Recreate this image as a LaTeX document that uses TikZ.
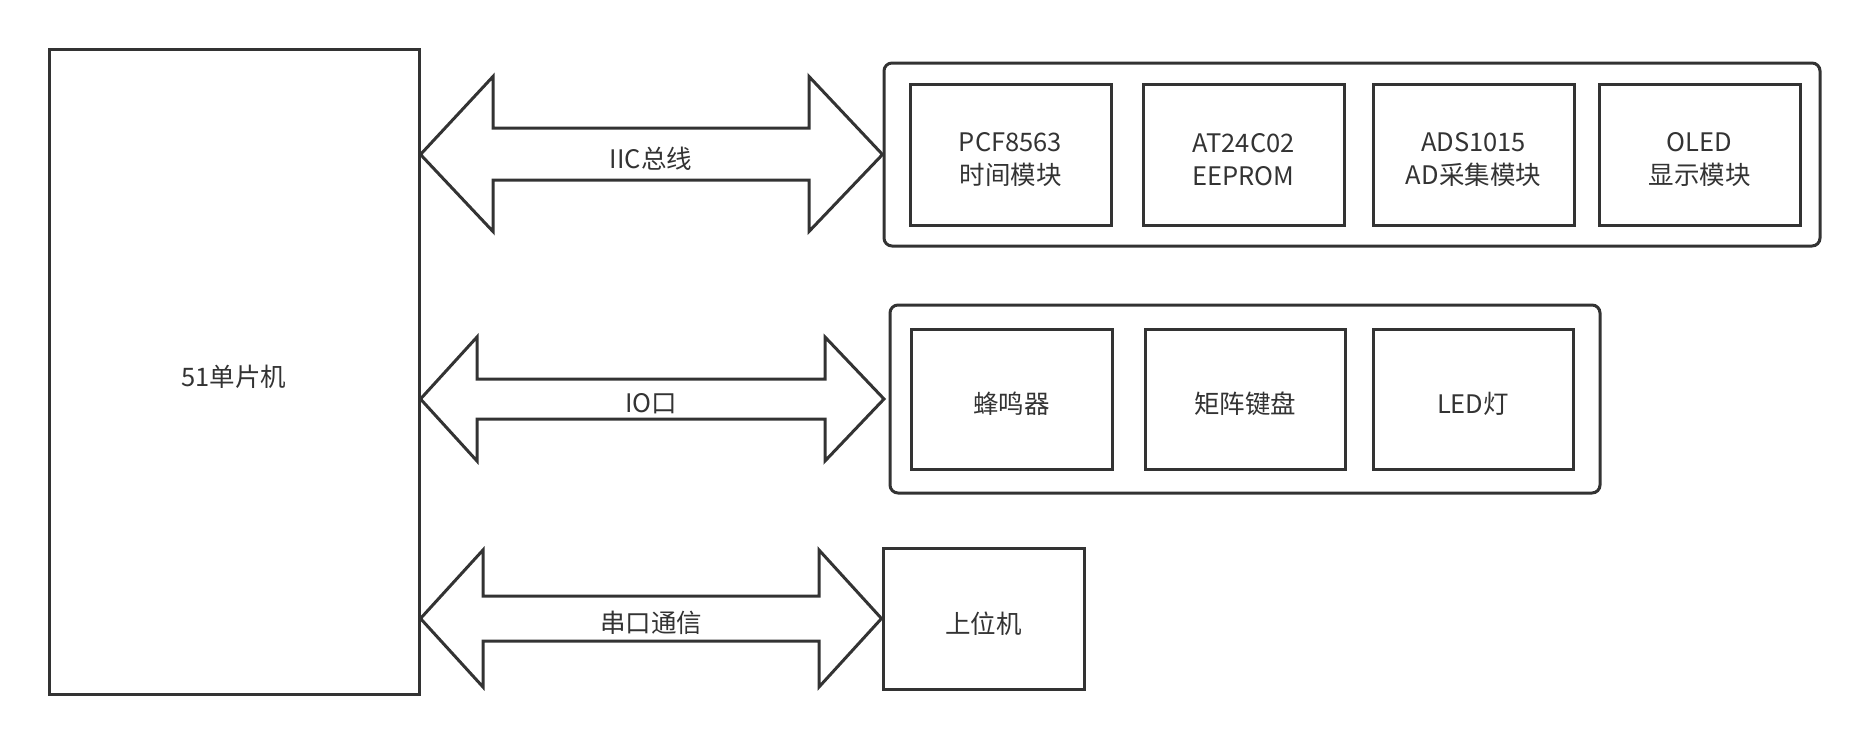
\documentclass[tikz,border=0pt]{standalone}
\usepackage{fontspec}
\setmainfont{Noto Sans CJK SC}
\definecolor{ink}{HTML}{333333}
\begin{document}
\begin{tikzpicture}[x=1pt,y=-1pt,
  txt/.style={text=ink, font=\fontsize{25.5}{33}\selectfont, align=center, inner sep=0pt},
  box/.style={draw=ink, line width=3pt, inner sep=0pt},
  grp/.style={draw=ink, line width=3pt, rounded corners=8pt, inner sep=0pt},
  arr/.style={draw=ink, line width=3pt, fill=white, line join=miter}]
\useasboundingbox (0,0) rectangle (1870,744);
% main controller
\node[box, minimum width=370, minimum height=645] (mcu) at (234,371.5) {};
\node[txt] (mcut) at ([yshift=-5pt]mcu.center) {51单片机};
% group 1
\node[grp, minimum width=936, minimum height=183] (g1) at (1352,154.5) {};
\node[box, minimum width=201, minimum height=141] (pcf) at (1010.5,154.5) {};
\node[box, minimum width=201, minimum height=141] (at24) at (1243.5,154.5) {};
\node[box, minimum width=201, minimum height=141] (ads) at (1473.5,154.5) {};
\node[box, minimum width=201, minimum height=141] (oled) at (1699.5,154.5) {};
\node[txt] (pcft) at ([yshift=-5pt]pcf.center) {PCF8563\\时间模块};
\node[txt] (at24t) at ([yshift=-5pt]at24.center) {AT24C02\\EEPROM};
\node[txt] (adst) at ([yshift=-5pt]ads.center) {ADS1015\\AD采集模块};
\node[txt] (oledt) at ([yshift=-5pt]oled.center) {OLED\\显示模块};
% group 2
\node[grp, minimum width=710, minimum height=188] (g2) at (1245,399) {};
\node[box, minimum width=201, minimum height=140] (buz) at (1011.5,399) {};
\node[box, minimum width=200, minimum height=140] (key) at (1245,399) {};
\node[box, minimum width=200, minimum height=140] (led) at (1473,399) {};
\node[txt] (buzt) at ([yshift=-5pt]buz.center) {蜂鸣器};
\node[txt] (keyt) at ([yshift=-5pt]key.center) {矩阵键盘};
\node[txt] (ledt) at ([yshift=-5pt]led.center) {LED灯};
% host
\node[box, minimum width=201, minimum height=141] (pc) at (983.5,618.5) {};
\node[txt] (pct) at ([yshift=-5pt]pc.center) {上位机};
% arrows
\coordinate (a1l) at (mcu.east |- g1.west);
\coordinate (a1r) at (g1.west);
\draw[arr] (a1l) -- (493,76.5) -- (493,128) -- (809,128) -- (809,76.5) -- (a1r)
  -- (809,231.5) -- (809,180) -- (493,180) -- (493,231.5) -- cycle;
\node[txt] (l1) at (651,159) {IIC总线};
\coordinate (a2l) at (mcu.east |- g2.west);
\coordinate (a2r) at (884,399);
\draw[arr] (a2l) -- (477,337) -- (477,379) -- (825,379) -- (825,337) -- (a2r)
  -- (825,461) -- (825,419) -- (477,419) -- (477,461) -- cycle;
\node[txt] (l2) at (651,403.5) {IO口};
\coordinate (a3l) at (mcu.east |- pc.west);
\coordinate (a3r) at (pc.west);
\draw[arr] (a3l) -- (483,550) -- (483,596) -- (819,596) -- (819,550) -- (a3r)
  -- (819,687) -- (819,641) -- (483,641) -- (483,687) -- cycle;
\node[txt] (l3) at (651,623) {串口通信};
\end{tikzpicture}
\end{document}
